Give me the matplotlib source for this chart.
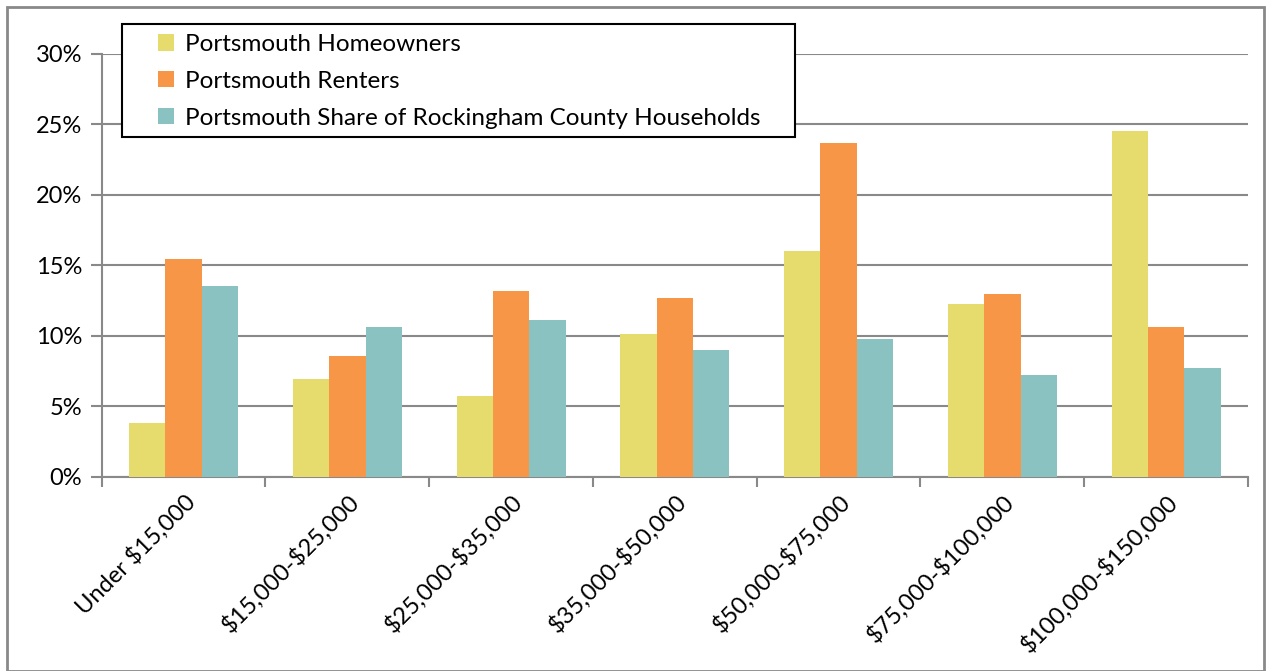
import matplotlib
matplotlib.use("Agg")
import matplotlib.pyplot as plt
import numpy as np
from matplotlib.patches import Rectangle

categories = ["Under $15,000", "$15,000-$25,000", "$25,000-$35,000", "$35,000-$50,000",
              "$50,000-$75,000", "$75,000-$100,000", "$100,000-$150,000"]
homeowners = [3.8, 6.95, 5.7, 10.15, 16.05, 12.25, 24.55]
renters = [15.45, 8.6, 13.15, 12.7, 23.65, 13.0, 10.65]
share = [13.5, 10.65, 11.1, 9.0, 9.8, 7.2, 7.7]
series_names = ["Portsmouth Homeowners", "Portsmouth Renters",
                "Portsmouth Share of Rockingham County Households"]
colors = ["#E6DC6E", "#F79646", "#89C2C1"]
yticks = [0, 5, 10, 15, 20, 25, 30]

plt.rcParams['font.family'] = ['Lato', 'DejaVu Sans']
plt.rcParams['text.parse_math'] = False

W, H = 1268, 671
fig = plt.figure(figsize=(W / 100, H / 100), dpi=100)
ax = fig.add_axes([101.7/W, 1 - 476.7/H, (1248 - 101.7)/W, (476.7 - 54)/H])

x = np.arange(len(categories))
w = 0.222
for i, (vals, c, n) in enumerate(zip([homeowners, renters, share], colors, series_names)):
    ax.bar(x + (i - 1) * w, vals, width=w, color=c, label=n, zorder=3, linewidth=0)

ax.set_xlim(-0.5, len(categories) - 0.5)
ax.set_ylim(0, 30)
ax.set_yticks(yticks)
ax.set_yticklabels([f"{v}%" for v in yticks], fontsize=17)
ax.yaxis.grid(True, color="#898989", linewidth=1.5, zorder=0)
ax.set_xticks(np.arange(len(categories) + 1) - 0.5)
ax.set_xticklabels([])
ax.set_xticks(x, minor=True)
ax.set_xticklabels(categories, minor=True, rotation=45, ha="right", rotation_mode="anchor", fontsize=17)
ax.tick_params(axis="x", which="minor", length=0, pad=10)
ax.tick_params(axis="x", which="major", length=7, width=1.5, color="#898989")
ax.tick_params(axis="y", length=8, width=1.5, color="#898989", pad=6)
for s in ["top", "right"]:
    ax.spines[s].set_visible(False)
for s in ["left", "bottom"]:
    ax.spines[s].set_color("#898989")
    ax.spines[s].set_linewidth(1.5)

# legend box
box = Rectangle((122/W, 1 - 137/H), (795 - 122)/W, (137 - 24)/H, transform=fig.transFigure,
                facecolor="white", edgecolor="black", linewidth=1.5, zorder=4)
ax.add_artist(box)
box.set_clip_on(False)

leg = ax.legend(loc="upper left", bbox_to_anchor=(158/W, 1 - 34/H), bbox_transform=fig.transFigure,
                fontsize=17.5, frameon=False,
                handlelength=0.65, handleheight=0.65, handletextpad=0.45, borderpad=0, labelspacing=0.65,
                borderaxespad=0)
leg.set_zorder(5)

fig.patches.append(Rectangle((7/W, 0), (1264 - 7)/W, 1 - 7/H, transform=fig.transFigure,
                             fill=False, edgecolor="#898989", linewidth=2))

fig.savefig("out.png", dpi=100)
